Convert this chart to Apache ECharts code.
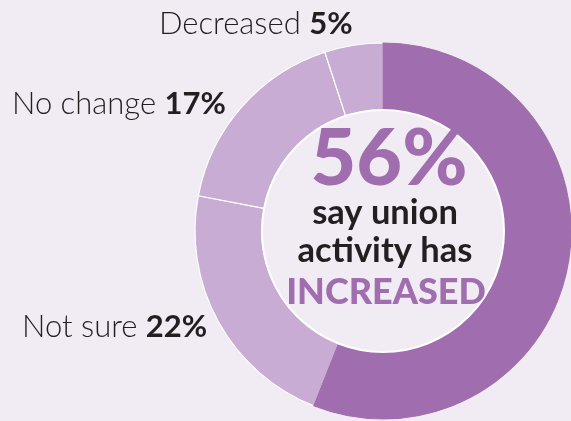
<!DOCTYPE html>
<html>
<head>
<meta charset="utf-8">
<script src="https://cdn.jsdelivr.net/npm/echarts@6/dist/echarts.min.js"></script>
<style>
  html, body { margin: 0; padding: 0; background: #f1ebf4; }
  #chart { width: 571px; height: 421px; }
</style>
</head>
<body>
<div id="chart"></div>
<script>
// Survey answers: how union activity has changed
const categories = ['Increased', 'Not sure', 'No change', 'Decreased'];
const shares = [56, 22, 17, 5];
const displayNames = ['', 'Not sure', 'No change', 'Decreased'];

const sliceColors = ['#a06eae', '#c9acd4', '#c9acd4', '#c9acd4'];
// where each outside label sits (text anchor on its left edge, vertical middle)
const labelSpots = [null, [22, 327], [12, 104], [159, 24]];

const cx = 383, cy = 231, rIn = 121, rOut = 188;
const FONT = 'Lato, "Noto Sans", sans-serif';
const INK = '#231f20';
const ACCENT = '#a06eae';
const BG = '#f1ebf4';

const chart = echarts.init(document.getElementById('chart'), null, { renderer: 'canvas' });

const ringBase = {
  type: 'pie',
  center: [cx, cy],
  radius: [rIn, rOut],
  startAngle: 90,
  clockwise: true,
  silent: true,
  labelLine: { show: false }
};

chart.setOption({
  backgroundColor: BG,
  animation: false,
  series: [
    Object.assign({}, ringBase, {
      z: 2,
      itemStyle: { borderColor: '#ffffff', borderWidth: 1.2 },
      label: {
        show: true,
        position: 'outside',
        overflow: 'none',
        alignTo: 'none',
        formatter: p => p.dataIndex === 0 ? '' : '{n|' + displayNames[p.dataIndex] + ' }{v|' + p.value + '%}',
        rich: {
          n: { fontFamily: FONT, fontSize: 31, fontWeight: 300, color: INK },
          v: { fontFamily: FONT, fontSize: 31, fontWeight: 'bold', color: INK }
        }
      },
      labelLayout: p => {
        const s = labelSpots[p.dataIndex];
        if (!s) return {};
        return { x: s[0], y: s[1], align: 'left', verticalAlign: 'middle' };
      },
      data: categories.map((c, i) => ({
        name: c,
        value: shares[i],
        itemStyle: { color: sliceColors[i] }
      }))
    }),
    // the leading share again on top, edged in its own colour so no white seam shows against it
    Object.assign({}, ringBase, {
      z: 3,
      label: { show: false },
      data: categories.map((c, i) => ({
        name: c,
        value: shares[i],
        itemStyle: i === 0
          ? { color: sliceColors[0], borderColor: sliceColors[0], borderWidth: 1.2 }
          : { color: 'rgba(0,0,0,0)', borderWidth: 0 }
      }))
    })
  ],
  graphic: [
    {
      type: 'circle',
      z: 10,
      shape: { cx: cx, cy: cy, r: rIn },
      style: { fill: BG, stroke: '#ffffff', lineWidth: 2 },
      silent: true
    },
    {
      type: 'text', z: 11, x: cx + 6, y: 160,
      style: { text: shares[0] + '%', fontFamily: FONT, fontWeight: 900, fontSize: 79,
               fill: ACCENT, align: 'center', verticalAlign: 'middle' }
    },
    {
      type: 'text', z: 11, x: cx + 2, y: 213,
      style: { text: 'say union', fontFamily: FONT, fontWeight: 'bold', fontSize: 34.5,
               fill: INK, align: 'center', verticalAlign: 'middle' }
    },
    {
      type: 'text', z: 11, x: cx + 2, y: 251,
      style: { text: 'activity has', fontFamily: FONT, fontWeight: 'bold', fontSize: 34.5,
               fill: INK, align: 'center', verticalAlign: 'middle' }
    },
    {
      type: 'text', z: 11, x: cx + 3, y: 292,
      style: { text: 'INCREASED', fontFamily: FONT, fontWeight: 900, fontSize: 36,
               fill: ACCENT, align: 'center', verticalAlign: 'middle' }
    }
  ]
});
</script>
</body>
</html>
